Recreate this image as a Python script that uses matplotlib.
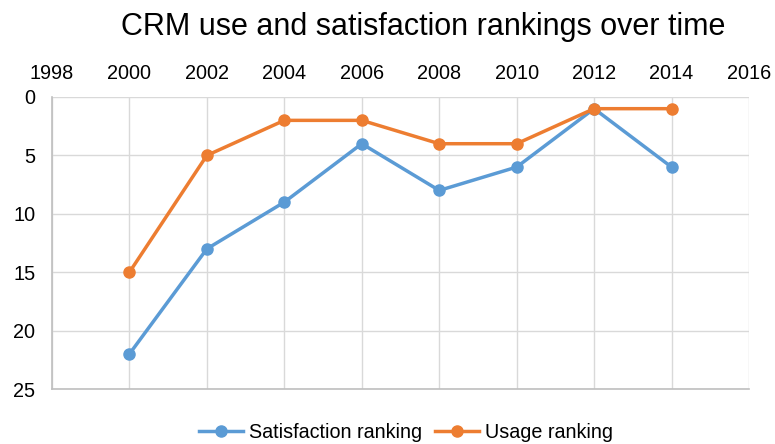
import matplotlib.pyplot as plt

years = [2000, 2002, 2004, 2006, 2008, 2010, 2012, 2014]
satisfaction = [22, 13, 9, 4, 8, 6, 1, 6]
usage = [15, 5, 2, 2, 4, 4, 1, 1]
x_ticks = list(range(1998, 2017, 2))
y_ticks = [0, 5, 10, 15, 20, 25]

plt.rcParams['font.family'] = ['Liberation Sans', 'DejaVu Sans']

fig = plt.figure(figsize=(7.75, 4.44), dpi=100)
ax = fig.add_axes([52 / 775, 55 / 444, 697 / 775, 292 / 444])

ax.plot(years, satisfaction, color='#5B9BD5', lw=2.5, marker='o', ms=8,
        label='Satisfaction ranking')
ax.plot(years, usage, color='#ED7D31', lw=2.5, marker='o', ms=8,
        label='Usage ranking')

ax.set_xlim(1998, 2016)
ax.set_ylim(25, 0)
ax.set_xticks(x_ticks)
ax.set_yticks(y_ticks)
ax.xaxis.tick_top()
ax.tick_params(length=0, labelsize=14.3, colors='#000000')
ax.tick_params(axis='x', pad=10)
ax.tick_params(axis='y', pad=12)
ax.grid(True, color='#d9d9d9', lw=1)
ax.set_axisbelow(True)
for side in ['top', 'right']:
    ax.spines[side].set_visible(False)
for side in ['left', 'bottom']:
    ax.spines[side].set_color('#bfbfbf')
    ax.spines[side].set_linewidth(1.2)

fig.text(423 / 775, 1 - 27 / 444, 'CRM use and satisfaction rankings over time',
         ha='center', va='center', fontsize=22)
fig.legend(loc='center', bbox_to_anchor=(406 / 775, 1 - 432 / 444), ncol=2,
           frameon=False, fontsize=14.2, handlelength=2.2, columnspacing=0.7,
           handletextpad=0.3)

fig.savefig('out.png', dpi=100)
